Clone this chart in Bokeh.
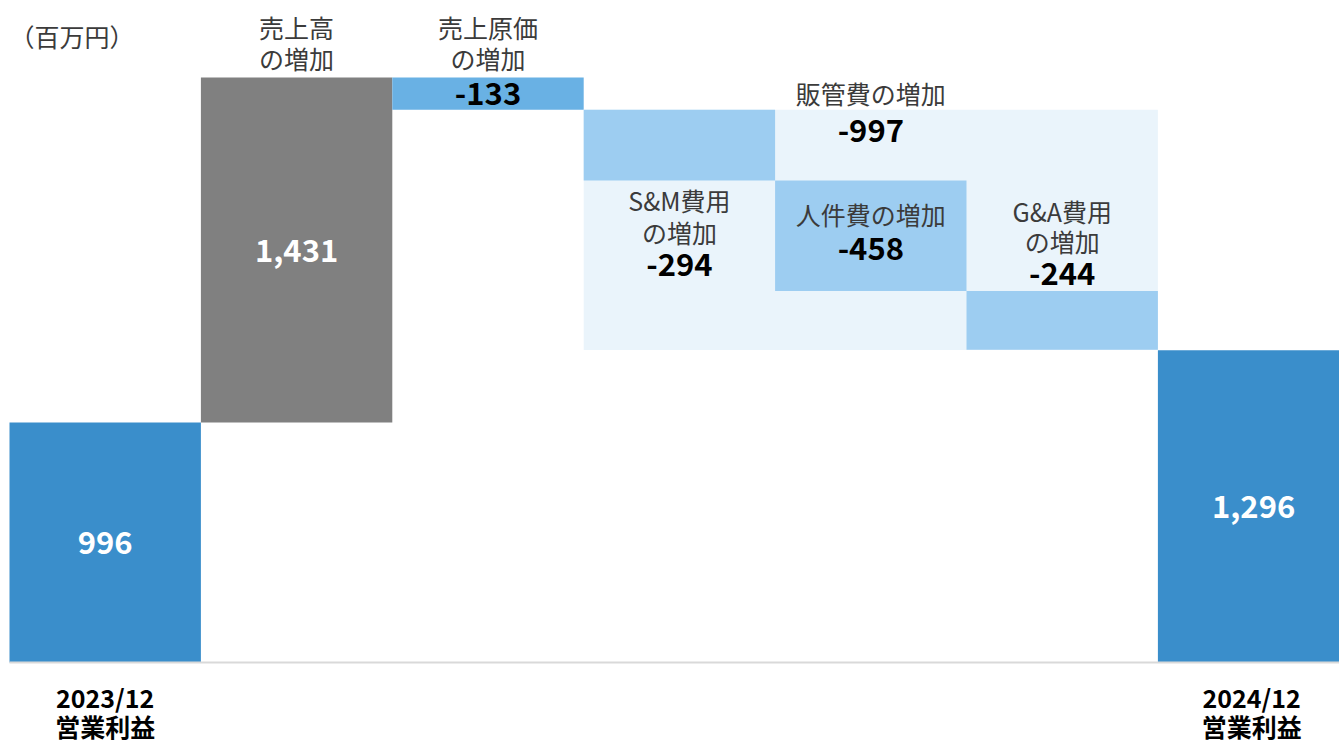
from bokeh.plotting import figure
from bokeh.models import Range1d
from bokeh.core.properties import value
from bokeh.embed import file_html
from bokeh.resources import INLINE

# ---- data ----
categories = ["2023/12 営業利益", "売上高の増加", "売上原価の増加",
              "S&M費用の増加", "人件費の増加", "G&A費用の増加", "2024/12 営業利益"]
values = [996, 1431, -133, -294, -458, -244, 1296]
kinds = ["total", "up", "down", "sga", "sga", "sga", "total"]
value_labels = ["996", "1,431", "-133", "-294", "-458", "-244", "1,296"]
sga_label = "販管費の増加"
sga_total = -997
sga_total_label = "-997"
unit_label = "（百万円）"

FONT = "Noto Sans CJK JP"
colors = {"total": "#3A8ECB", "up": "#808080", "down": "#69B1E4", "sga": "#9DCDF1"}

# waterfall geometry
bottoms, tops = [], []
run = 0
for k_, v in zip(kinds, values):
    if k_ == "total":
        b, t = 0, v
        run = v
    else:
        b, t = min(run, run + v), max(run, run + v)
        run = run + v
    bottoms.append(b)
    tops.append(t)
lefts = [i for i in range(len(values))]
rights = [i + 1 for i in range(len(values))]
centers = [i + 0.5 for i in range(len(values))]

# ---- figure ----
W, H = 1339, 743
col_px = 191.4
k = 0.241
x0 = -9 / col_px
y0 = -81 / k
p = figure(width=W, height=H, output_backend="svg", toolbar_location=None,
           x_range=Range1d(x0, x0 + W / col_px), y_range=Range1d(y0, y0 + H / k),
           min_border=0, outline_line_color=None)
p.axis.visible = False
p.grid.visible = False
p.background_fill_color = "white"
p.border_fill_color = "white"

# SG&A background box
sga_idx = [i for i, kk in enumerate(kinds) if kk == "sga"]
sga_top = tops[sga_idx[0]]
sga_bottom = sga_top + sga_total
p.quad(left=[lefts[sga_idx[0]]], right=[rights[sga_idx[-1]]],
       top=[sga_top], bottom=[sga_bottom], fill_color="#EAF4FB", line_color=None)

# bars
p.quad(left=lefts, right=rights, top=tops, bottom=bottoms,
       fill_color=[colors[kk] for kk in kinds], line_color=None)

# baseline
p.segment(x0=[0], x1=[7.2], y0=[0], y1=[0], line_color="#D9D9D9", line_width=2)

GRAY = "#3B3B3B"
JP = 25
NUM = 31

def txt(x, y, s, size, color, bold=False, dy=0, align="center"):
    p.text(x=[x], y=[y], text=[s], text_font=value(FONT),
           text_font_size=f"{size}px", text_color=color,
           text_font_style="bold" if bold else "normal",
           text_align=align, text_baseline="middle", y_offset=dy)

# unit
txt(lefts[0], tops[1], unit_label, JP, GRAY, dy=-42, align="left")

# header labels for sales / COGS
for i in (1, 2):
    name = categories[i].replace("の増加", "")
    top_i = max(tops[1], tops[2])
    txt(centers[i], top_i, name, JP, GRAY, dy=-51)
    txt(centers[i], top_i, "の増加", JP, GRAY, dy=-20)

# values inside bars
txt(centers[0], (tops[0] + bottoms[0]) / 2, value_labels[0], NUM, "white", bold=True)
txt(centers[1], (tops[1] + bottoms[1]) / 2, value_labels[1], NUM, "white", bold=True)
txt(centers[2], (tops[2] + bottoms[2]) / 2, value_labels[2], NUM, "black", bold=True)
txt(centers[6], (tops[6] + bottoms[6]) / 2, value_labels[6], NUM, "white", bold=True)

# SG&A total label
sga_center = (lefts[sga_idx[0]] + rights[sga_idx[-1]]) / 2
txt(sga_center, sga_top, sga_label, JP, GRAY, dy=-17)
txt(sga_center, sga_top, sga_total_label, NUM, "black", bold=True, dy=21)

# S&M
i = 3
txt(centers[i], bottoms[i], "S&M費用", JP, GRAY, dy=19)
txt(centers[i], bottoms[i], "の増加", JP, GRAY, dy=51)
txt(centers[i], bottoms[i], value_labels[i], NUM, "black", bold=True, dy=84)
# personnel
i = 4
mid = (tops[i] + bottoms[i]) / 2
txt(centers[i], mid, "人件費の増加", JP, GRAY, dy=-22)
txt(centers[i], mid, value_labels[i], NUM, "black", bold=True, dy=13)
# G&A
i = 5
txt(centers[i], tops[i], "G&A費用", JP, GRAY, dy=-80)
txt(centers[i], tops[i], "の増加", JP, GRAY, dy=-50)
txt(centers[i], tops[i], value_labels[i], NUM, "black", bold=True, dy=-17)

# bottom category labels
for i in (0, 6):
    period, name = categories[i].split(" ")
    cx = centers[i] if i == 0 else centers[i] - 0.01
    txt(cx, 0, period, 25, "black", bold=True, dy=34)
    txt(cx, 0, name, 25, "black", bold=True, dy=63)

open("out.html", "w").write(file_html(p, INLINE))
